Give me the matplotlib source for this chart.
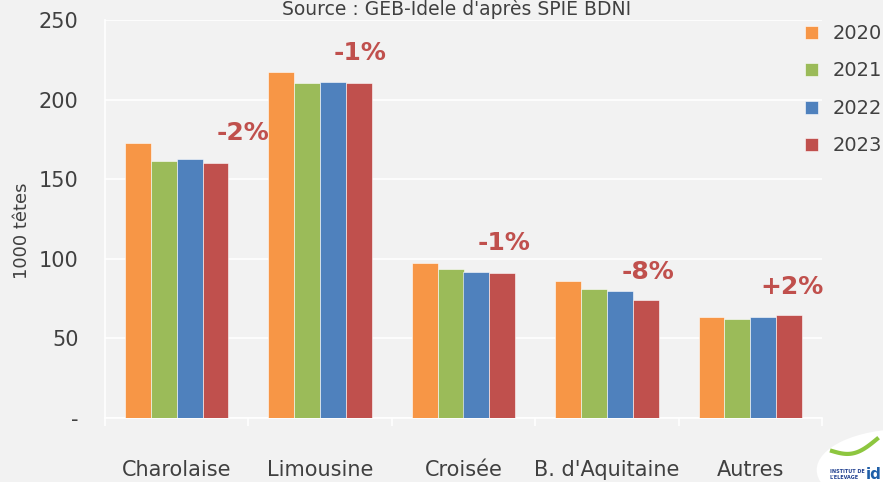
import matplotlib
matplotlib.use("Agg")
import matplotlib.pyplot as plt
from matplotlib.patches import Ellipse
import numpy as np

plt.rcParams['font.family'] = ['DejaVu Sans']

categories = ["Charolaise", "Limousine", "Croisée", "B. d'Aquitaine", "Autres"]
years = ["2020", "2021", "2022", "2023"]
v2020 = [173, 217.5, 97.5, 86, 63.5]
v2021 = [161.5, 210.5, 93.5, 81, 62.5]
v2022 = [163, 211, 92, 80, 63.5]
v2023 = [160, 210.5, 91, 74, 65]
changes = ["-2%", "-1%", "-1%", "-8%", "+2%"]
change_y = [179, 229, 110, 92, 82]
change_dx = [0.465, 0.28, 0.28, 0.29, 0.29]
colours = ["#f79646", "#9bbb59", "#4f81bd", "#c0504d"]

bg = "#f2f2f2"
txt = "#404040"

fig = plt.figure(figsize=(8.83, 4.82), dpi=100, facecolor=bg)
ax = fig.add_axes([105/883, 1-418/482, (822-105)/883, (418-20)/482], facecolor=bg)

x = np.arange(len(categories))
width = 0.18
series = [v2020, v2021, v2022, v2023]
for i, vals in enumerate(series):
    ax.bar(x + (i - 1.5) * width, vals, width, color=colours[i], label=years[i],
           edgecolor="#ffffff", linewidth=0.4, zorder=3)

for i, c in enumerate(changes):
    ax.text(x[i] + change_dx[i], change_y[i], c, ha='center', va='center',
            fontsize=18, fontweight='bold', color="#c0504d", zorder=4)

ax.set_xlim(-0.5, len(categories) - 0.5)
ax.set_ylim(0, 250)
ax.set_yticks([0, 50, 100, 150, 200, 250])
ax.set_yticklabels(["-", "50", "100", "150", "200", "250"])
ax.yaxis.grid(True, color="white", linewidth=1.2, zorder=0)
ax.set_axisbelow(True)

ax.set_xticks(x)
ax.set_xticklabels(categories)
ax.set_xticks(np.arange(-0.5, len(categories)), minor=True)
ax.tick_params(axis='x', which='major', length=0, pad=30, labelsize=15, labelcolor=txt)
ax.tick_params(axis='x', which='minor', length=6, color="white", width=1.2)
ax.tick_params(axis='y', length=0, pad=19, labelsize=15, labelcolor=txt)

for s in ["top", "right"]:
    ax.spines[s].set_visible(False)
for s in ["left", "bottom"]:
    ax.spines[s].set_color("white")
    ax.spines[s].set_linewidth(1.2)

ax.set_ylabel("1000 têtes", fontsize=13, color=txt)
ax.yaxis.set_label_coords(-(105 - 31) / (822 - 105), 0.47)

leg = fig.legend(loc='upper left', bbox_to_anchor=(805/883, 1 - 24/482), frameon=False,
                 fontsize=14, handlelength=0.65, handleheight=0.65, handletextpad=0.75,
                 labelspacing=0.95, borderaxespad=0, borderpad=0)
for t in leg.get_texts():
    t.set_color(txt)

fig.text(457/883, 1 - 15/482, "Source : GEB-Idele d'après SPIE BDNI", ha='center',
         va='baseline', fontsize=13.5, color=txt)

# logo corner
logo = Ellipse((905/883, 1 - 470/482), 0.2, 0.17, transform=fig.transFigure,
               facecolor="white", edgecolor="none")
fig.patches.append(logo)
t = np.linspace(0, 1, 30)
fig.lines.append(plt.Line2D((832 + 45*t)/883, 1 - (445 + 8*np.sin(np.pi*t) - 12*t + 6)/482,
                            transform=fig.transFigure, color="#8dc63f", linewidth=3))
fig.text(830/883, 1 - 480/482, "INSTITUT DE\nL'ELEVAGE", ha='left', va='bottom',
         fontsize=3.5, color="#1f3f8f", fontweight='bold')
fig.text(866/883, 1 - 482/482, "id", ha='left', va='bottom',
         fontsize=11, color="#1f5fa8", fontweight='bold')

fig.savefig("out.png", dpi=100, facecolor=bg)
